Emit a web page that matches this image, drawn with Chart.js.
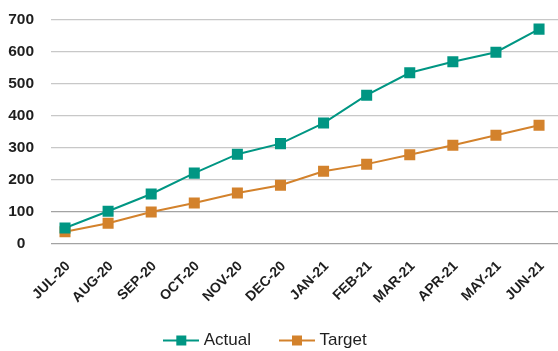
<!DOCTYPE html>
<html>
<head>
<meta charset="utf-8">
<script src="https://cdn.jsdelivr.net/npm/chart.js@4"></script>
<style>
  html, body { margin: 0; padding: 0; background: #ffffff; }
  #wrap { width: 558px; height: 351px; position: relative; }
</style>
</head>
<body>
<div id="wrap"><canvas id="c" width="558" height="351"></canvas></div>
<script>
const months = ['JUL-20','AUG-20','SEP-20','OCT-20','NOV-20','DEC-20','JAN-21','FEB-21','MAR-21','APR-21','MAY-21','JUN-21'];
const actual = [50, 102, 156, 221, 280, 313, 377, 464, 534, 568, 598, 670];
const target = [38, 65, 100, 128, 159, 183, 227, 249, 278, 308, 339, 370];
const yTicks = [0, 100, 200, 300, 400, 500, 600, 700];

const TEAL = '#009683';
const ORANGE = '#d3822c';
const FONT = "'Liberation Sans', Arial, Helvetica, sans-serif";

function legendIcon(color) {
  const cv = document.createElement('canvas');
  cv.width = 36; cv.height = 12;
  const g = cv.getContext('2d');
  g.strokeStyle = color; g.lineWidth = 2;
  g.beginPath(); g.moveTo(0, 6); g.lineTo(36, 6); g.stroke();
  g.fillStyle = color; g.fillRect(13, 1, 10, 10);
  return cv;
}

const toPts = arr => arr.map((v, i) => ({x: i, y: v}));

const LEGEND_H = 43;
const LEGEND_DX = -12, LEGEND_DY = -8;
const legendFit = {
  id: 'legendFit',
  beforeLayout(chart) {
    const lg = chart.legend;
    if (lg && !lg._patched) {
      const f = lg.fit;
      lg.fit = function () { f.call(this); this.height = LEGEND_H; };
      const d = lg.draw;
      lg.draw = function () {
        const t = this.top, l = this.left, r = this.right;
        this.top = t + LEGEND_DY; this.left = l + LEGEND_DX; this.right = r + LEGEND_DX;
        d.apply(this, arguments);
        this.top = t; this.left = l; this.right = r;
      };
      lg._patched = true;
    }
  }
};

new Chart(document.getElementById('c'), {
  type: 'line',
  data: {
    datasets: [
      { label: 'Actual', data: toPts(actual), borderColor: TEAL, backgroundColor: TEAL,
        borderWidth: 2, pointStyle: 'rect', pointRadius: 7.8, pointBorderWidth: 0, tension: 0 },
      { label: 'Target', data: toPts(target), borderColor: ORANGE, backgroundColor: ORANGE,
        borderWidth: 2, pointStyle: 'rect', pointRadius: 7.8, pointBorderWidth: 0, tension: 0 }
    ]
  },
  options: {
    responsive: false,
    animation: false,
    events: [],
    layout: { autoPadding: false, padding: { top: 19.5, left: 0, right: 0, bottom: 0 } },
    scales: {
      x: {
        type: 'linear',
        min: -0.325,
        max: 11.44,
        grid: { display: false, drawTicks: false },
        border: { display: false },
        afterFit(s) { s.height = 351 - LEGEND_H - 244; s.paddingLeft = 0; s.paddingRight = 0; },
        ticks: {
          stepSize: 1,
          includeBounds: false,
          autoSkip: false,
          minRotation: 45,
          maxRotation: 45,
          padding: 14,
          labelOffset: 3,
          color: '#1e1e1e',
          font: { family: FONT, size: 14, weight: 'bold' },
          callback: v => months[v] !== undefined && Number.isInteger(v) ? months[v] : ''
        }
      },
      y: {
        min: 0,
        max: 700,
        afterFit(s) { s.width = 51; s.paddingTop = 0; s.paddingBottom = 0; },
        afterBuildTicks(s) { s.ticks = yTicks.map(v => ({value: v})); },
        grid: {
          drawTicks: false,
          color: ctx => (ctx.tick && ctx.tick.value <= 100) ? '#a3a3a3' : '#c8c8c8',
          lineWidth: 1.3
        },
        border: { display: false },
        ticks: {
          padding: 17,
          crossAlign: 'center',
          color: '#1e1e1e',
          font: { family: FONT, size: 15.5, weight: 'bold' }
        }
      }
    },
    plugins: {
      tooltip: { enabled: false },
      legend: {
        position: 'bottom',
        labels: {
          usePointStyle: true,
          pointStyleWidth: 28,
          padding: 32,
          color: '#1e1e1e',
          font: { family: FONT, size: 17 },
          generateLabels(chart) {
            return chart.data.datasets.map((ds, i) => ({
              text: ds.label,
              pointStyle: legendIcon(ds.borderColor),
              fillStyle: ds.borderColor,
              strokeStyle: ds.borderColor,
              lineWidth: 0,
              fontColor: '#1e1e1e',
              datasetIndex: i,
              hidden: false
            }));
          }
        }
      }
    }
  },
  plugins: [legendFit]
});
</script>
</body>
</html>
